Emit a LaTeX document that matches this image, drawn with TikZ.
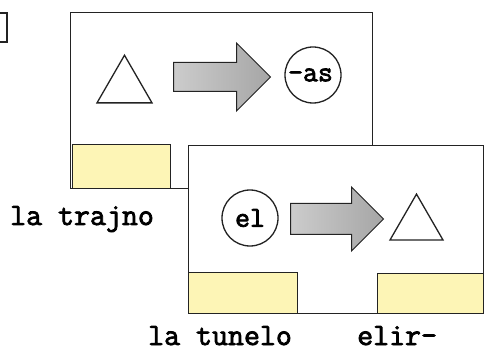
\documentclass[tikz,border=0pt]{standalone}
\usepackage{fontspec}
\newfontfamily\typewriter[FakeBold=2.5]{Latin Modern Mono}
\usepackage{tikz}
\usetikzlibrary{shapes.geometric, shapes.arrows, positioning}
\definecolor{PaleYellow}{RGB}{253, 245, 182}
\definecolor{InkBlack}{RGB}{35, 35, 35}

\begin{document}
\begin{tikzpicture}[x=1pt, y=-1pt,
		% frame of one picture card
		cardBox/.style={
			rectangle,
			anchor=north west,
			inner sep=0pt,
			draw=InkBlack,
			fill=white,
			line width=1.4pt
		},
		% yellow label strip inside a card
		tabBox/.style={
			rectangle,
			anchor=north west,
			inner sep=0pt,
			draw=InkBlack,
			fill=PaleYellow,
			line width=1.2pt
		},
		% empty triangle sign
		signTri/.style={
			regular polygon,
			regular polygon sides=3,
			inner sep=0pt,
			draw=InkBlack,
			line width=1.3pt
		},
		% circled ending
		endCircle/.style={
			circle,
			minimum size=56pt,
			inner sep=0pt,
			draw=InkBlack,
			line width=1.3pt,
			font=\typewriter\fontsize{29}{29}\selectfont
		},
		% thick shaded arrow
		bigArrow/.style={
			single arrow,
			anchor=tail,
			inner xsep=0pt,
			single arrow head indent=0pt,
			draw=InkBlack,
			line width=1pt,
			left color=gray!40,
			right color=gray!70
		},
		% typed word under a card
		wordLabel/.style={
			anchor=base west,
			inner sep=0pt,
			font=\typewriter\fontsize{31}{34}\selectfont
		}
		]
		
		\useasboundingbox (0,0) rectangle (487,363);
		
		% edge of the previous card
		\draw[InkBlack, line width=1.4pt] (0,13) -- (7,13) -- (7,42) -- (0,42);
		
		% first card: la trajno
		\node[cardBox, minimum width=302pt, minimum height=176pt] (card1) at (70,12) {};
		\node[tabBox, minimum width=98pt, minimum height=44pt] (tab1) at (72,144) {};
		\node[signTri, minimum size=63.5pt] (tri1) at (124.5,87) {};
		\node[bigArrow, minimum height=97pt, inner ysep=14pt,
			single arrow head extend=19.5pt] (arrow1) at (173,77) {};
		\node[endCircle] (as) at (313,75) {\hspace*{-5pt}-as};
		
		% second card: la tunelo
		\node[cardBox, minimum width=295pt, minimum height=168pt] (card2) at (188,145) {};
		\node[tabBox, minimum width=109pt, minimum height=41pt] (tab2) at (188,272) {};
		\node[tabBox, minimum width=106pt, minimum height=40pt] (tab3) at (377,273) {};
		\node[endCircle] (el) at (250,218) {el};
		\node[bigArrow, minimum height=93pt, inner ysep=15pt,
			single arrow head extend=16.5pt] (arrow2) at (290,219) {};
		\node[signTri, minimum size=61.2pt] (tri2) at (416.5,224.7) {};
		
		% words
		\node[wordLabel] (trajno) at (10,225) {la trajno};
		\node[wordLabel] (tunelo) at (148,345) {la tunelo};
		\node[wordLabel] (elir) at (357,345) {elir-};
		
	\end{tikzpicture}
\end{document}
